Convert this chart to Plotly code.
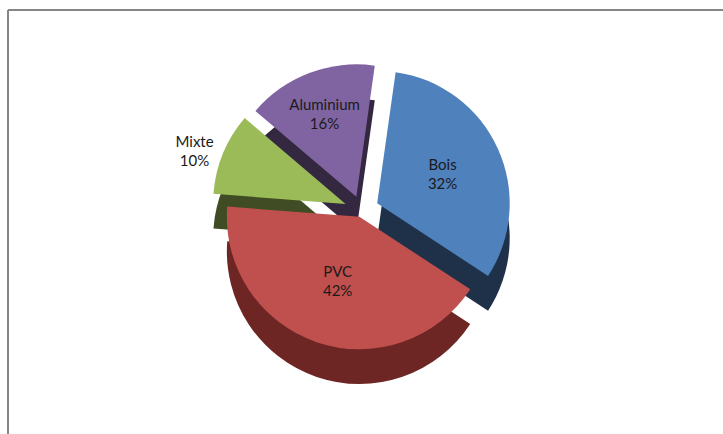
import plotly.graph_objects as go

labels = ["Bois", "PVC", "Mixte", "Aluminium"]
values = [32, 42, 10, 16]
top_colors = ["#4F81BD", "#C0504D", "#9BBB59", "#8064A2"]
side_colors = ["#1F3149", "#6E2624", "#3F4C24", "#33283F"]
text_pos = ["inside", "inside", "outside", "inside"]
pulls = [0.13, 0.05, 0.13, 0.11]

fig = go.Figure()

# extrusion (side) of the pie, drawn slightly lower
fig.add_trace(go.Pie(
    labels=labels, values=values, sort=False, direction="clockwise", rotation=8,
    pull=pulls, marker=dict(colors=side_colors, line=dict(width=0)),
    textinfo="none", hoverinfo="skip", showlegend=False, automargin=False,
    domain=dict(x=[0.05, 0.95], y=[0.09, 0.78]),
))

# top face
fig.add_trace(go.Pie(
    labels=labels, values=values, sort=False, direction="clockwise", rotation=8,
    pull=pulls, marker=dict(colors=top_colors, line=dict(width=0)),
    texttemplate="%{label}<br>%{percent:.0%}", automargin=False,
    textposition=text_pos, insidetextorientation="horizontal",
    textfont=dict(family="Lato, Open Sans, sans-serif", size=15, color="#1a1a1a"),
    showlegend=False,
    domain=dict(x=[0.05, 0.95], y=[0.17, 0.86]),
))

fig.update_layout(
    width=723, height=434, autosize=False,
    margin=dict(l=0, r=0, t=0, b=0, pad=0),
    paper_bgcolor="white", plot_bgcolor="white",
    shapes=[
        dict(type="line", xref="paper", yref="paper",
             x0=8/723, x1=1, y0=1 - 10/434, y1=1 - 10/434,
             line=dict(color="#868686", width=2)),
        dict(type="line", xref="paper", yref="paper",
             x0=8/723, x1=8/723, y0=0, y1=1 - 10/434,
             line=dict(color="#868686", width=2)),
    ],
)

fig.write_html("out.html")
